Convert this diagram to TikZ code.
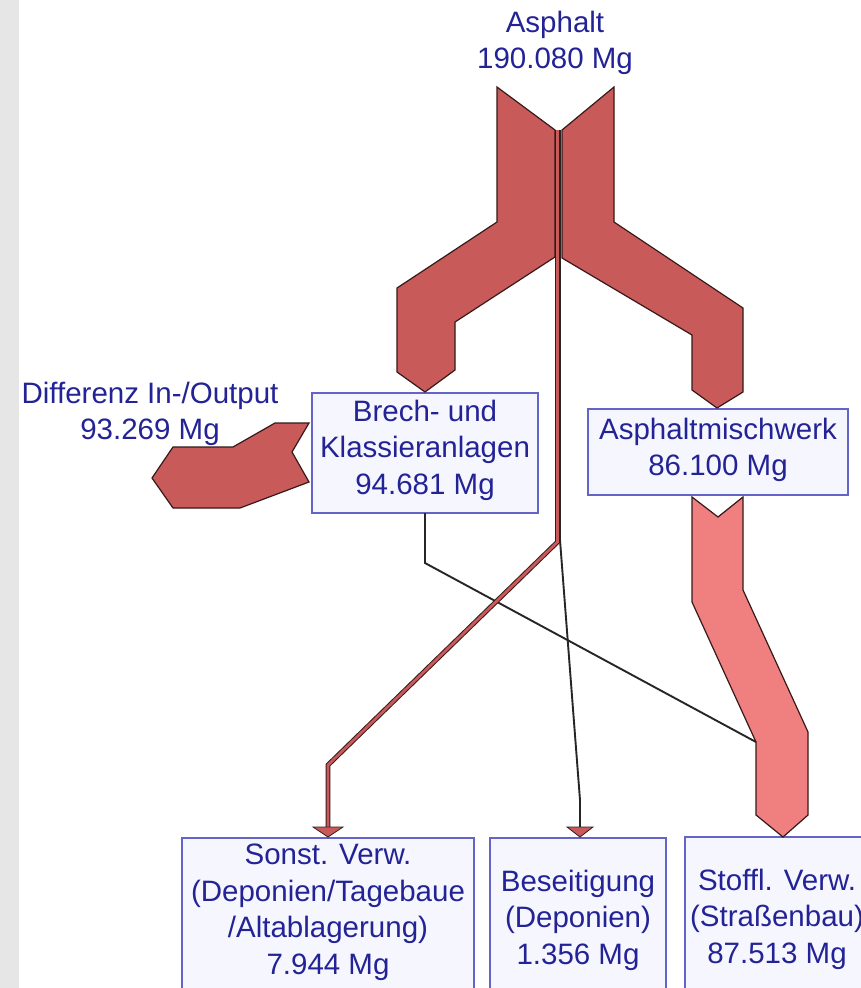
\documentclass[tikz,border=0pt]{standalone}
\usepackage{fontspec}
\setmainfont{Liberation Sans}
\definecolor{flowred}{RGB}{201,90,90}
\definecolor{flowpink}{RGB}{240,128,128}
\definecolor{edge}{RGB}{55,25,25}
\definecolor{boxline}{RGB}{100,100,200}
\definecolor{boxfill}{RGB}{246,246,255}
\definecolor{txt}{RGB}{35,35,150}
\definecolor{strip}{RGB}{230,230,230}
\tikzset{
  lbl/.style={text=txt, align=center, inner sep=0pt, font=\fontsize{29.5}{36.5}\selectfont},
  boxx/.style={draw=boxline, fill=boxfill, line width=1.6pt},
  bigflow/.style={fill=flowred, draw=edge, line width=1.2pt, line join=miter},
  pinkflow/.style={fill=flowpink, draw=edge, line width=1.2pt, line join=miter},
  thinblack/.style={draw=black!85, line width=1.9pt},
  thinred/.style={draw=edge, double=flowred, double distance=2.8pt, line width=1pt},
  tip/.style={fill=flowred, draw=edge, line width=0.8pt}
}
\begin{document}
\begin{tikzpicture}[x=1pt,y=-1pt]
\clip (0,0) rectangle (861,988);
\fill[white] (0,0) rectangle (861,988);
\fill[strip] (0,0) rectangle (19,988);

% boxes
\draw[boxx] (312,393) rectangle (538,513);
\draw[boxx] (588,409) rectangle (848,495);
\draw[boxx] (182,838) rectangle (474,1000);
\draw[boxx] (490,838) rectangle (666,1000);
\draw[boxx] (685,837) rectangle (900,1000);

% coordinates
\coordinate (topL) at (557.5,130);
\coordinate (topB) at (560,130);
\coordinate (redBend1) at (557.5,542);
\coordinate (redBend2) at (328,765);
\coordinate (redEnd) at (328,827);
\coordinate (blkBend1) at (560,540);
\coordinate (blkBend2) at (580,800);
\coordinate (blkEnd) at (580,827);
\coordinate (brOut) at (425,513);
\coordinate (brBend) at (425,563);
\coordinate (pinkBend) at (756,742);

% big flows from Asphalt
\draw[bigflow] (497,87) -- (555,130) -- (555,257) -- (455,322) -- (455,370) -- (425,392) -- (397,372) -- (397,288) -- (497,222) -- cycle;
\draw[bigflow] (614,87) -- (562,130) -- (562,258) -- (692,335) -- (692,390) -- (717,408) -- (743,392) -- (743,308) -- (614,222) -- cycle;

% Differenz flow
\draw[bigflow] (275,423) -- (309,423) -- (292,452) -- (309,482) -- (240,508) -- (173,508) -- (152,478) -- (173,447) -- (233,447) -- cycle;

% Asphaltmischwerk -> Stoffl. Verw.
\draw[pinkflow] (692,497) -- (718,517) -- (743,497) -- (743,590) -- (808,732) -- (808,815) -- (783,837) -- (756,815) -- (756,742) -- (692,602) -- cycle;

% Brech -> Stoffl. Verw. (thin)
\draw[thinblack, line join=miter] (brOut) -- (brBend) -- (pinkBend);

% Asphalt -> Beseitigung (thin)
\draw[thinblack, line join=miter] (topB) -- (blkBend1) -- (blkBend2) -- (blkEnd);
\draw[tip] (567,827) -- (593,827) -- (580,837) -- cycle;

% Asphalt -> Sonst. Verw. (thin red)
\draw[thinred, line join=miter] (topL) -- (redBend1) -- (redBend2) -- (redEnd);
\draw[tip] (313,827) -- (343,827) -- (328,837) -- cycle;

% labels
\node[lbl] (asphalt) at (555,43) {Asphalt\\190.080 Mg};
\node[lbl] (diff) at (150,414) {Differenz In-/Output\\93.269 Mg};
\node[lbl] (brech) at (425,450) {Brech- und\\Klassieranlagen\\94.681 Mg};
\node[lbl] (misch) at (718,450) {Asphaltmischwerk\\86.100 Mg};
\node[lbl] (sonst) at (328,912) {Sonst. Verw.\\(Deponien/Tagebaue\\/Altablagerung)\\7.944 Mg};
\node[lbl] (beseit) at (578,920) {Beseitigung\\(Deponien)\\1.356 Mg};
\node[lbl] (stoffl) at (777,919) {Stoffl. Verw.\\(Straßenbau)\\87.513 Mg};
\end{tikzpicture}
\end{document}
